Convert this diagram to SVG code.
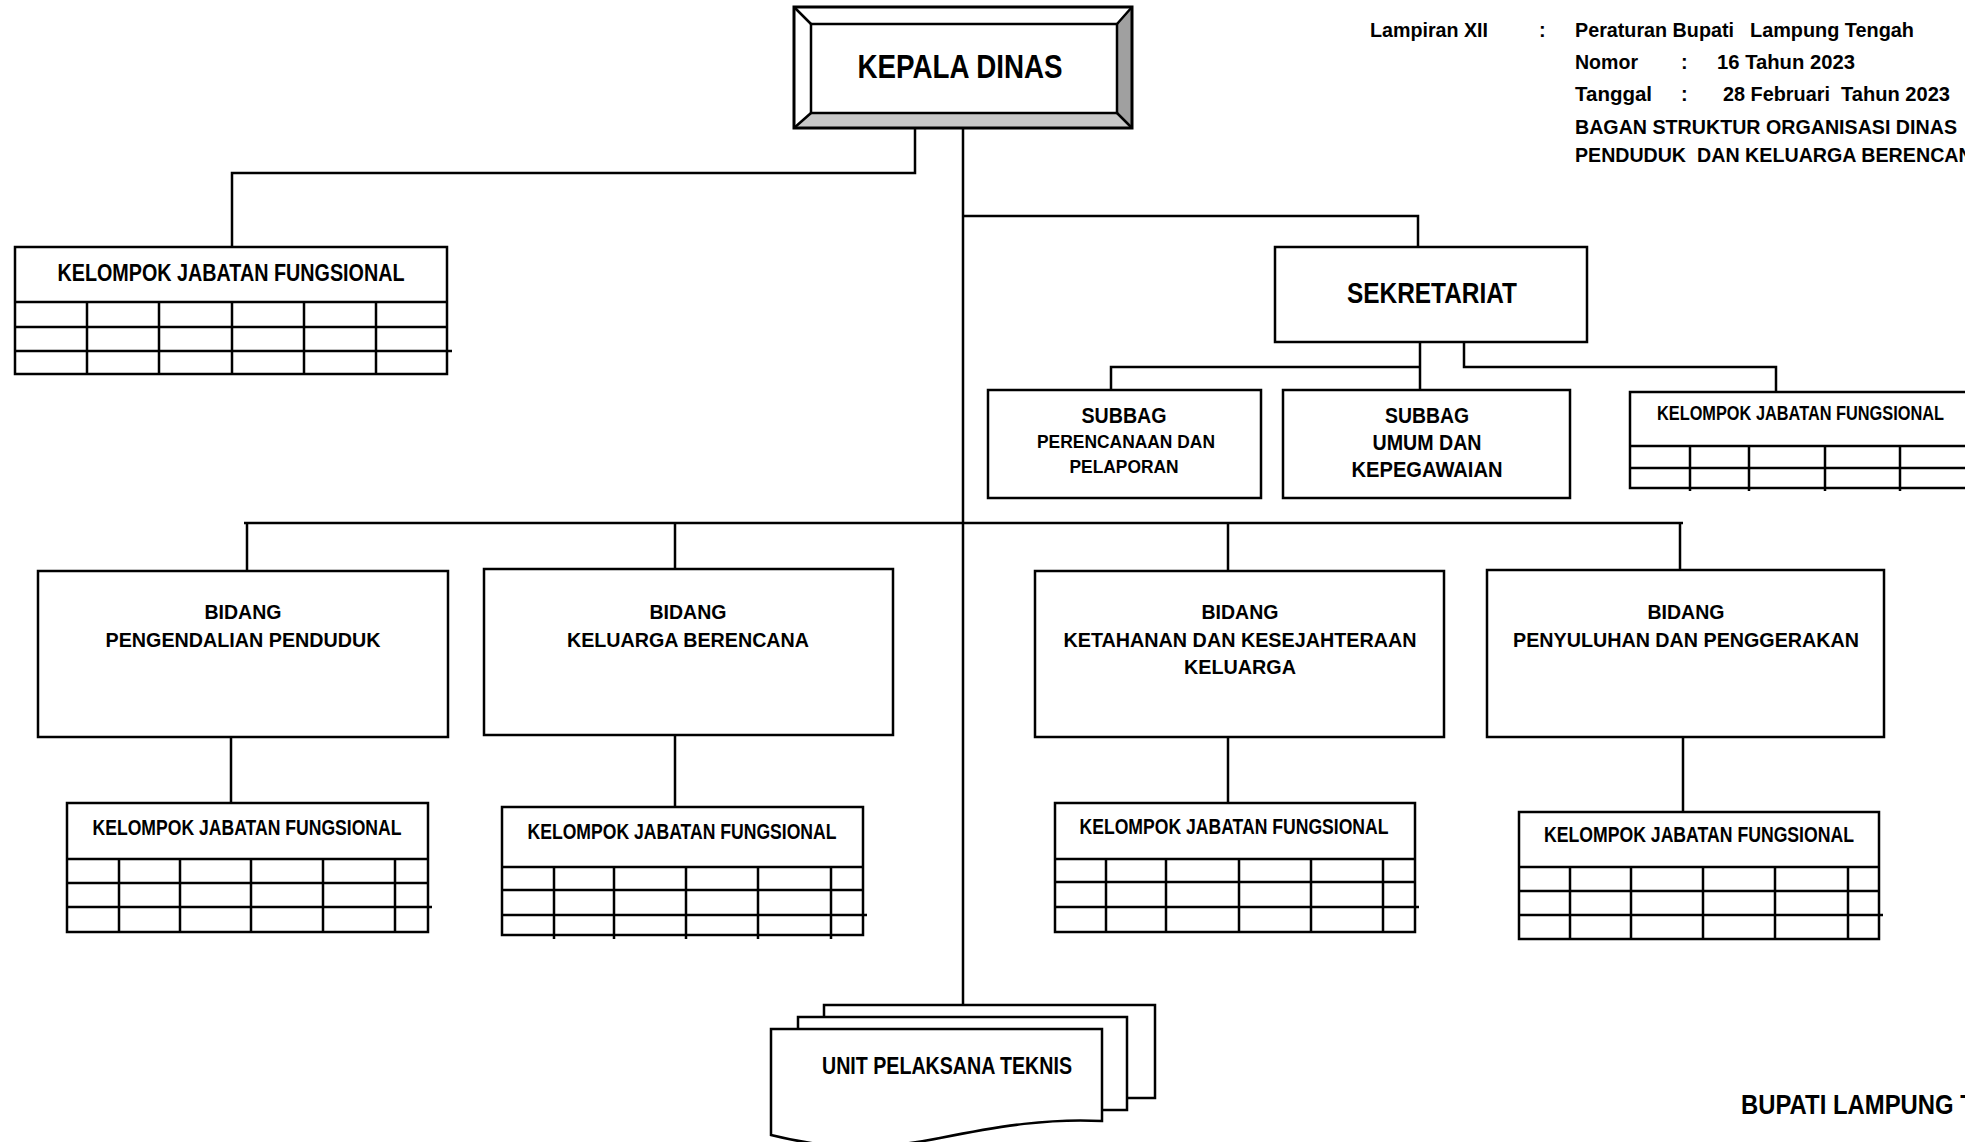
<svg xmlns="http://www.w3.org/2000/svg" width="1965" height="1142" viewBox="0 0 1965 1142">
<style>
.bx{fill:#fff;stroke:#000;stroke-width:2.5}
.ln{fill:none;stroke:#000;stroke-width:2.5}
.gl{fill:none;stroke:#000;stroke-width:2.5}
text{font-family:"Liberation Sans Narrow","Liberation Sans",Arial,sans-serif;font-weight:bold;fill:#000}
.c{text-anchor:middle}
</style>
<rect width="1965" height="1142" fill="#fff"/>

<g id="connectors">
<path class="ln" d="M915,128 V173 H232 V247"/>
<path class="ln" d="M963,128 V1005"/>
<path class="ln" d="M963,216 H1418 V247"/>
<path class="ln" d="M1420,342 V390 M1111,390 V367 H1420"/>
<path class="ln" d="M1464,342 V367 H1776 V392"/>
<path class="ln" d="M244,523 H1683"/>
<path class="ln" d="M247,523 V571 M675,523 V569 M1228,523 V571 M1680,523 V570"/>
<path class="ln" d="M231,737 V803 M675,735 V807 M1228,737 V803 M1683,737 V812"/>
</g>

<g id="kepala-dinas">
<rect x="794" y="7" width="338" height="121" fill="#fff"/>
<polygon points="1132,7 1117,24 1117,113 1132,128" fill="#a0a0a0"/>
<polygon points="794,128 811,113 1117,113 1132,128" fill="#c8c8c8"/>
<rect x="794" y="7" width="338" height="121" fill="none" stroke="#000" stroke-width="3"/>
<rect x="811" y="24" width="306" height="89" fill="#fff" stroke="#000" stroke-width="2.5"/>
<path class="ln" d="M794,7 L811,24 M1132,7 L1117,24 M794,128 L811,113 M1132,128 L1117,113" stroke-width="2"/>
<text class="c" x="960" y="78" font-size="33" textLength="205" lengthAdjust="spacingAndGlyphs">KEPALA DINAS</text>
</g>

<g id="lampiran">
<text x="1370" y="37" font-size="20" textLength="118" lengthAdjust="spacingAndGlyphs">Lampiran XII</text>
<text x="1539" y="37" font-size="20">:</text>
<text x="1575" y="37" font-size="20" textLength="159" lengthAdjust="spacingAndGlyphs">Peraturan Bupati</text>
<text x="1750" y="37" font-size="20" textLength="164" lengthAdjust="spacingAndGlyphs">Lampung Tengah</text>
<text x="1575" y="69" font-size="20" textLength="63" lengthAdjust="spacingAndGlyphs">Nomor</text>
<text x="1681" y="69" font-size="20">:</text>
<text x="1717" y="69" font-size="20" textLength="138" lengthAdjust="spacingAndGlyphs">16 Tahun 2023</text>
<text x="1575" y="101" font-size="20" textLength="77" lengthAdjust="spacingAndGlyphs">Tanggal</text>
<text x="1681" y="101" font-size="20">:</text>
<text x="1723" y="101" font-size="20" textLength="107" lengthAdjust="spacingAndGlyphs">28 Februari</text>
<text x="1841" y="101" font-size="20" textLength="109" lengthAdjust="spacingAndGlyphs">Tahun 2023</text>
<text x="1575" y="134" font-size="20" textLength="382" lengthAdjust="spacingAndGlyphs">BAGAN STRUKTUR ORGANISASI DINAS</text>
<text x="1575" y="162" font-size="20" textLength="111" lengthAdjust="spacingAndGlyphs">PENDUDUK</text>
<text x="1697" y="162" font-size="20" textLength="290" lengthAdjust="spacingAndGlyphs">DAN KELUARGA BERENCANA</text>
</g>

<g id="kjf-kepala">
<rect class="bx" x="15" y="247" width="432" height="127"/>
<path class="gl" d="M15,302 H447 M15,327 H447 M15,351 H452 M87,302 V374 M159,302 V374 M232,302 V374 M304,302 V374 M376,302 V374"/>
<text class="c" x="231" y="281" font-size="23" textLength="347" lengthAdjust="spacingAndGlyphs">KELOMPOK JABATAN FUNGSIONAL</text>
</g>

<g id="sekretariat">
<rect class="bx" x="1275" y="247" width="312" height="95"/>
<text class="c" x="1432" y="303" font-size="29" textLength="170" lengthAdjust="spacingAndGlyphs">SEKRETARIAT</text>
</g>

<g id="subbag-perencanaan">
<rect class="bx" x="988" y="390" width="273" height="108"/>
<text class="c" x="1124" y="423" font-size="22" textLength="85" lengthAdjust="spacingAndGlyphs">SUBBAG</text>
<text class="c" x="1126" y="448" font-size="19" textLength="178" lengthAdjust="spacingAndGlyphs">PERENCANAAN DAN</text>
<text class="c" x="1124" y="473" font-size="19" textLength="109" lengthAdjust="spacingAndGlyphs">PELAPORAN</text>
</g>

<g id="subbag-umum">
<rect class="bx" x="1283" y="390" width="287" height="108"/>
<text class="c" x="1427" y="423" font-size="22" textLength="84" lengthAdjust="spacingAndGlyphs">SUBBAG</text>
<text class="c" x="1427" y="450" font-size="22" textLength="109" lengthAdjust="spacingAndGlyphs">UMUM DAN</text>
<text class="c" x="1427" y="477" font-size="22" textLength="151" lengthAdjust="spacingAndGlyphs">KEPEGAWAIAN</text>
</g>

<g id="kjf-sekretariat">
<rect class="bx" x="1630" y="392" width="360" height="96"/>
<path class="gl" d="M1630,446 H1990 M1630,468 H1990 M1690,446 V491 M1749,446 V491 M1825,446 V491 M1900,446 V491"/>
<text x="1657" y="420" font-size="20" textLength="287" lengthAdjust="spacingAndGlyphs">KELOMPOK JABATAN FUNGSIONAL</text>
</g>

<g id="bidang-pengendalian">
<rect class="bx" x="38" y="571" width="410" height="166"/>
<text class="c" x="243" y="619" font-size="21" textLength="77" lengthAdjust="spacingAndGlyphs">BIDANG</text>
<text class="c" x="243" y="647" font-size="21" textLength="275" lengthAdjust="spacingAndGlyphs">PENGENDALIAN PENDUDUK</text>
</g>

<g id="bidang-kb">
<rect class="bx" x="484" y="569" width="409" height="166"/>
<text class="c" x="688" y="619" font-size="21" textLength="77" lengthAdjust="spacingAndGlyphs">BIDANG</text>
<text class="c" x="688" y="647" font-size="21" textLength="242" lengthAdjust="spacingAndGlyphs">KELUARGA BERENCANA</text>
</g>

<g id="bidang-ketahanan">
<rect class="bx" x="1035" y="571" width="409" height="166"/>
<text class="c" x="1240" y="619" font-size="21" textLength="77" lengthAdjust="spacingAndGlyphs">BIDANG</text>
<text class="c" x="1240" y="647" font-size="21" textLength="353" lengthAdjust="spacingAndGlyphs">KETAHANAN DAN KESEJAHTERAAN</text>
<text class="c" x="1240" y="674" font-size="21" textLength="112" lengthAdjust="spacingAndGlyphs">KELUARGA</text>
</g>

<g id="bidang-penyuluhan">
<rect class="bx" x="1487" y="570" width="397" height="167"/>
<text class="c" x="1686" y="619" font-size="21" textLength="77" lengthAdjust="spacingAndGlyphs">BIDANG</text>
<text class="c" x="1686" y="647" font-size="21" textLength="346" lengthAdjust="spacingAndGlyphs">PENYULUHAN DAN PENGGERAKAN</text>
</g>

<g id="kjf-pengendalian">
<rect class="bx" x="67" y="803" width="361" height="129"/>
<path class="gl" d="M67,859 H428 M67,883 H428 M67,907 H432 M119,859 V932 M180,859 V932 M251,859 V932 M323,859 V932 M395,859 V932"/>
<text class="c" x="247" y="835" font-size="22" textLength="309" lengthAdjust="spacingAndGlyphs">KELOMPOK JABATAN FUNGSIONAL</text>
</g>

<g id="kjf-kb">
<rect class="bx" x="502" y="807" width="361" height="128"/>
<path class="gl" d="M502,867 H863 M502,890 H863 M502,915 H867 M554,867 V939 M614,867 V939 M686,867 V939 M758,867 V939 M831,867 V939"/>
<text class="c" x="682" y="839" font-size="22" textLength="309" lengthAdjust="spacingAndGlyphs">KELOMPOK JABATAN FUNGSIONAL</text>
</g>

<g id="kjf-ketahanan">
<rect class="bx" x="1055" y="803" width="360" height="129"/>
<path class="gl" d="M1055,859 H1415 M1055,882 H1415 M1055,907 H1419 M1106,859 V932 M1166,859 V932 M1239,859 V932 M1311,859 V932 M1383,859 V932"/>
<text class="c" x="1234" y="834" font-size="22" textLength="309" lengthAdjust="spacingAndGlyphs">KELOMPOK JABATAN FUNGSIONAL</text>
</g>

<g id="kjf-penyuluhan">
<rect class="bx" x="1519" y="812" width="360" height="127"/>
<path class="gl" d="M1519,867 H1879 M1519,891 H1879 M1519,915 H1883 M1570,867 V939 M1631,867 V939 M1703,867 V939 M1775,867 V939 M1848,867 V939"/>
<text class="c" x="1699" y="842" font-size="22" textLength="310" lengthAdjust="spacingAndGlyphs">KELOMPOK JABATAN FUNGSIONAL</text>
</g>

<g id="upt">
<rect class="bx" x="824" y="1005" width="331" height="93"/>
<rect class="bx" x="798" y="1017" width="329" height="93"/>
<path class="bx" d="M771,1029 H1102 V1121 C1050,1118 1000,1126 940,1138 C880,1150 830,1150 771,1135 Z"/>
<text class="c" x="947" y="1074" font-size="23" textLength="250" lengthAdjust="spacingAndGlyphs">UNIT PELAKSANA TEKNIS</text>
</g>

<g id="bupati">
<text x="1741" y="1114" font-size="27" textLength="320" lengthAdjust="spacingAndGlyphs">BUPATI LAMPUNG TENGAH</text>
</g>
</svg>
